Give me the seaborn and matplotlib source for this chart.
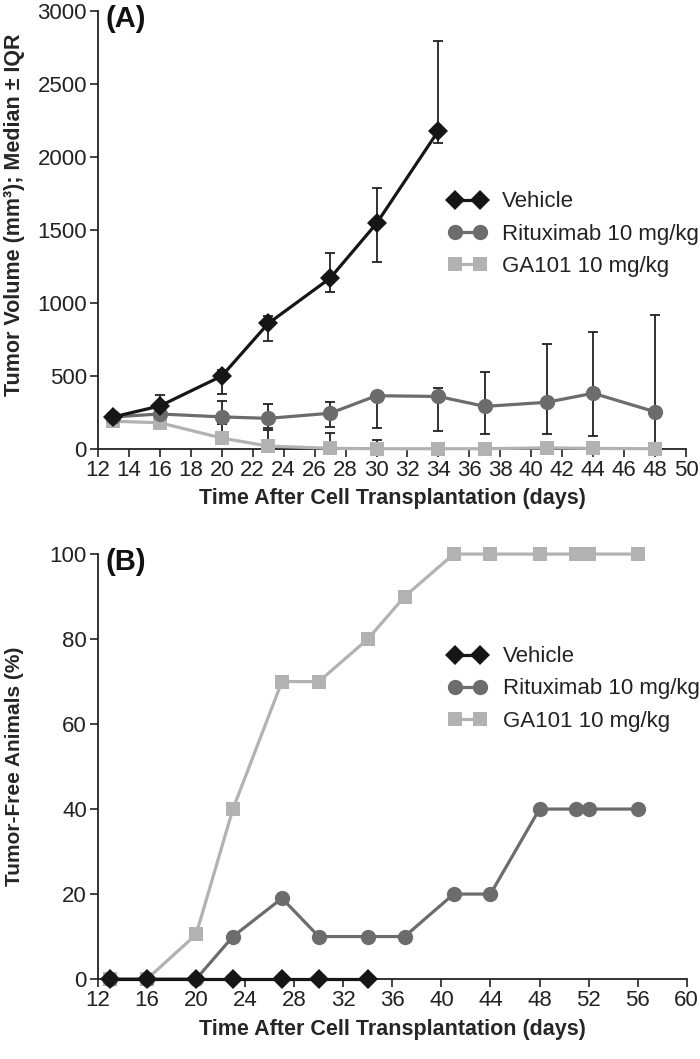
import numpy as np
import pandas as pd
import matplotlib
matplotlib.use("Agg")
import matplotlib.pyplot as plt
import seaborn as sns

# ---- panel A: tumour volume (median and IQR) ----
days_a = [13, 16, 20, 23, 27, 30, 34, 37, 41, 44, 48]

veh_days = [13, 16, 20, 23, 27, 30, 34]
veh_med = [220, 295, 500, 860, 1170, 1545, 2180]
veh_lo = [205, 255, 380, 740, 1075, 1280, 2095]
veh_hi = [235, 370, 540, 910, 1340, 1790, 2795]

rit_med = [220, 240, 220, 210, 245, 365, 360, 292, 320, 382, 255]
rit_lo = [205, 215, 170, 145, 150, 143, 125, 100, 100, 90, 0]
rit_hi = [235, 265, 330, 308, 325, 365, 418, 528, 719, 803, 918]

ga_med = [190, 180, 75, 20, 5, 2, 2, 2, 8, 4, 2]
ga_lo = [180, 170, 40, 0, 0, 0, 0, 0, 0, 0, 0]
ga_hi = [200, 190, 170, 130, 108, 65, 2, 2, 8, 4, 2]

# ---- panel B: tumour-free animals (%) ----
veh_days_b = [13, 16, 20, 23, 27, 30, 34]
veh_free = [0, 0, 0, 0, 0, 0, 0]

days_b = [13, 16, 20, 23, 27, 30, 34, 37, 41, 44, 48, 51, 52, 56]
rit_free = [0, 0, 0, 10, 19, 10, 10, 10, 20, 20, 40, 40, 40, 40]
ga_free = [0, 0, 10.5, 40, 70, 70, 80, 90, 100, 100, 100, 100, 100, 100]

groups = ["Vehicle", "Rituximab 10 mg/kg", "GA101 10 mg/kg"]
colors = {"Vehicle": "#161616", "Rituximab 10 mg/kg": "#6c6c6c",
          "GA101 10 mg/kg": "#b2b2b2"}
markers = {"Vehicle": "D", "Rituximab 10 mg/kg": "o", "GA101 10 mg/kg": "s"}
msize = {"Vehicle": 10, "Rituximab 10 mg/kg": 11, "GA101 10 mg/kg": 9.5}
zord = {"Vehicle": 5, "Rituximab 10 mg/kg": 4, "GA101 10 mg/kg": 3}

df_a = pd.concat([
    pd.DataFrame({"day": veh_days, "val": veh_med, "lo": veh_lo, "hi": veh_hi, "grp": groups[0]}),
    pd.DataFrame({"day": days_a, "val": rit_med, "lo": rit_lo, "hi": rit_hi, "grp": groups[1]}),
    pd.DataFrame({"day": days_a, "val": ga_med, "lo": ga_lo, "hi": ga_hi, "grp": groups[2]}),
], ignore_index=True)

df_b = pd.concat([
    pd.DataFrame({"day": veh_days_b, "val": veh_free, "grp": groups[0]}),
    pd.DataFrame({"day": days_b, "val": rit_free, "grp": groups[1]}),
    pd.DataFrame({"day": days_b, "val": ga_free, "grp": groups[2]}),
], ignore_index=True)

sns.set_theme(style="ticks")
plt.rcParams["font.family"] = ["Liberation Sans", "DejaVu Sans"]

fig = plt.figure(figsize=(7, 10.59), dpi=100)
ax1 = fig.add_axes([0.14, 0.576, 0.84, 0.4136])
ax2 = fig.add_axes([0.14, 0.0755, 0.841, 0.4013])


def draw_lines(ax, df):
    for g in groups:
        sub = df[df["grp"] == g]
        sns.lineplot(data=sub, x="day", y="val", ax=ax, color=colors[g],
                     marker=markers[g], markersize=msize[g], markeredgewidth=0,
                     linewidth=2.3, label=g, clip_on=False, zorder=zord[g],
                     errorbar=None, sort=False)


# error bars behind the lines
for g in groups:
    sub = df_a[df_a["grp"] == g]
    yerr = [sub["val"] - sub["lo"], sub["hi"] - sub["val"]]
    ax1.errorbar(sub["day"], sub["val"], yerr=yerr, fmt="none", ecolor="#222222",
                 elinewidth=1.3, capsize=3.5, capthick=1.3, zorder=2, clip_on=False)

draw_lines(ax1, df_a)
draw_lines(ax2, df_b)

ax1.set_xlim(12, 50)
ax1.set_ylim(0, 3000)
ax1.set_xticks(np.arange(12, 51, 2))
ax1.set_yticks(np.arange(0, 3001, 500))
ax1.set_xlabel("Time After Cell Transplantation (days)", fontsize=15.5, fontweight="bold", labelpad=5)
ax1.set_ylabel("Tumor Volume (mm³); Median ± IQR", fontsize=15.5, fontweight="bold")

ax2.set_xlim(12, 60)
ax2.set_ylim(0, 100)
ax2.set_xticks(np.arange(12, 61, 4))
ax2.set_yticks(np.arange(0, 101, 20))
ax2.set_xlabel("Time After Cell Transplantation (days)", fontsize=15.5, fontweight="bold", labelpad=6)
ax2.set_ylabel("Tumor-Free Animals (%)", fontsize=15, fontweight="bold")

legend_anchor = {ax1: (0.595, 0.588), ax2: (0.595, 0.783)}
ylab_y = {ax1: 0.534, ax2: 0.5}

for ax, letter in [(ax1, "(A)"), (ax2, "(B)")]:
    sns.despine(ax=ax)
    ax.tick_params(axis="both", labelsize=16, length=6, width=1.2, color="#222222",
                   direction="out", pad=2, labelcolor="#222222")
    for s in ["left", "bottom"]:
        ax.spines[s].set_linewidth(1.3)
        ax.spines[s].set_color("#222222")
    ax.yaxis.set_label_coords(-0.125, ylab_y[ax])
    ax.text(0.012, 0.982, letter, transform=ax.transAxes, fontsize=21,
            fontweight="bold", va="center", ha="left", color="#111111")
    leg = ax.legend(loc="upper left", bbox_to_anchor=legend_anchor[ax], frameon=False,
                    fontsize=16, handlelength=1.75, handletextpad=0.7, numpoints=2,
                    labelspacing=0.5, borderaxespad=0, borderpad=0)
    for t in leg.get_texts():
        t.set_color("#222222")

fig.savefig("out.png", dpi=100)
